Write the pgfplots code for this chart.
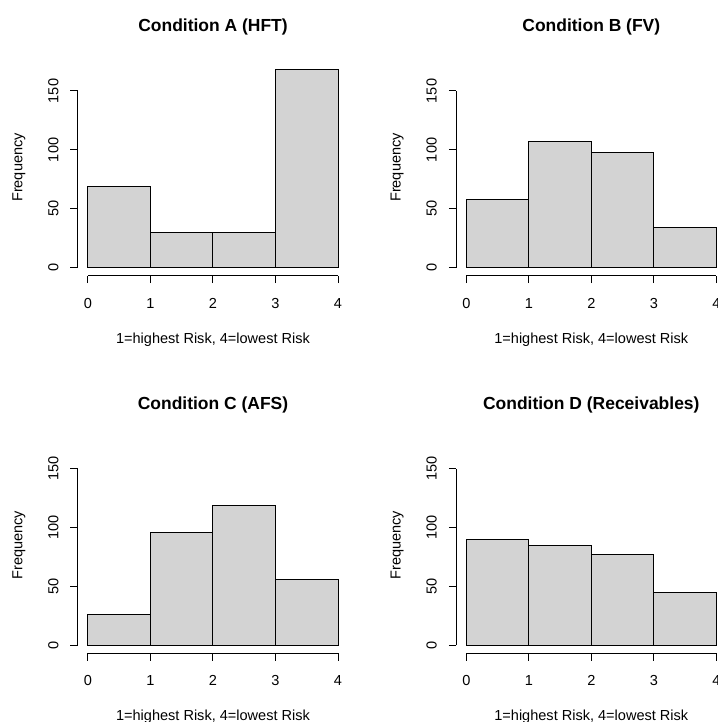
\documentclass[border=0pt]{standalone}
\usepackage{fontspec}
\setmainfont{Liberation Sans}
\usepackage{pgfplots}
\pgfplotsset{compat=1.18}
\newlength\px \setlength\px{0.75pt}
\definecolor{rgray}{HTML}{D3D3D3}
\pgfplotsset{
 rhist/.style={
  scale only axis, width=270\px, height=216.3\px,
  xmin=-0.16, xmax=4.16, ymin=-6.8, ymax=176.8,
  axis x line*=bottom, axis y line*=left,
  axis line style={draw=none},
  xtick={0,1,2,3,4}, ytick={0,50,100,150},
  tick align=outside, major tick length=7.5\px,
  tick style={black, line width=0.75pt},
  /pgf/number format/assume math mode=true,
  ticklabel style={font=\fontsize{10.9}{13}\selectfont},
  xticklabel style={anchor=base, yshift=-25.1\px},
  yticklabel style={xshift=-12.2\px, anchor=base, rotate=90},
  xlabel={1=highest Risk, 4=lowest Risk},
  ylabel={Frequency},
  every axis x label/.style={at={(axis description cs:0.5,-0.3125)}, anchor=base, font=\fontsize{10.9}{13}\selectfont},
  every axis y label/.style={at={(axis description cs:-0.2063,0.5)}, anchor=base, rotate=90, font=\fontsize{10.9}{13}\selectfont},
  every axis title/.style={at={(axis description cs:0.5,1.1267)}, anchor=base, font=\bfseries\fontsize{13.1}{15}\selectfont},
  clip=false,
 },
 rbars/.style={ybar interval, fill=rgray, draw=black, line width=0.75pt},
}
\newcommand\raxes{%
  \draw[line width=0.75pt] (axis cs:0,-6.8) -- (axis cs:4,-6.8);
  \draw[line width=0.75pt] (axis cs:-0.16,0) -- (axis cs:-0.16,150);
}
\begin{document}
\begin{tikzpicture}
\useasboundingbox (0,0) rectangle (718\px,722\px);
\begin{axis}[rhist, at={(78\px,446.3\px)}, anchor=south west, title={Condition A (HFT)}]
\addplot[rbars] coordinates {(0,69) (1,30) (2,30) (3,168) (4,168)};
\raxes
\end{axis}
\begin{axis}[rhist, at={(456.3\px,446.3\px)}, anchor=south west, title={Condition B (FV)}]
\addplot[rbars] coordinates {(0,58) (1,107) (2,98) (3,34) (4,34)};
\raxes
\end{axis}
\begin{axis}[rhist, at={(78\px,68.7\px)}, anchor=south west, title={Condition C (AFS)}]
\addplot[rbars] coordinates {(0,26) (1,96) (2,119) (3,56) (4,56)};
\raxes
\end{axis}
\begin{axis}[rhist, at={(456.3\px,68.7\px)}, anchor=south west, title={Condition D (Receivables)}]
\addplot[rbars] coordinates {(0,90) (1,85) (2,77) (3,45) (4,45)};
\raxes
\end{axis}
\end{tikzpicture}
\end{document}
